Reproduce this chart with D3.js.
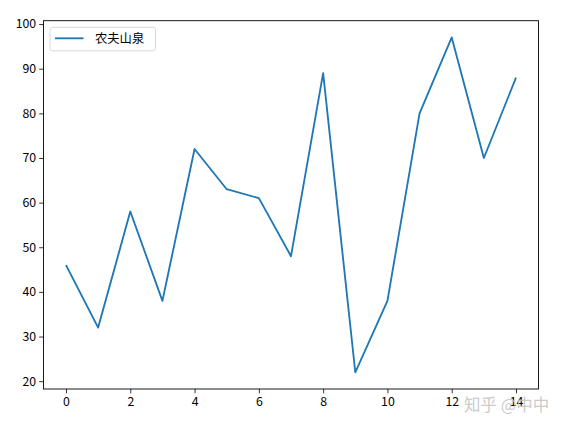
<!DOCTYPE html>
<html>
<head>
<meta charset="utf-8">
<script src="https://cdn.jsdelivr.net/npm/d3@7"></script>
<style>
  body { margin: 0; background: #fff; }
  svg text { font-family: "Noto Sans CJK SC", "DejaVu Sans", sans-serif; }
</style>
</head>
<body>
<div id="chart"></div>
<script>
const xs = [0, 1, 2, 3, 4, 5, 6, 7, 8, 9, 10, 11, 12, 13, 14];
const sales = [46, 32, 58, 38, 72, 63, 61, 48, 89, 22, 38, 80, 97, 70, 88];
const xTicks = [0, 2, 4, 6, 8, 10, 12, 14];
const yTicks = [20, 30, 40, 50, 60, 70, 80, 90, 100];
const seriesName = '农夫山泉';

const W = 567, H = 429;
const m = {left: 43.5, right: 28.5, top: 20.7, bottom: 40};

const svg = d3.select('#chart').append('svg').attr('width', W).attr('height', H);

const x = d3.scaleLinear().domain([-0.7, 14.7]).range([m.left, W - m.right]);
const y = d3.scaleLinear().domain([18.25, 100.75]).range([H - m.bottom, m.top]);

const fs = 12.3;

const xAxis = svg.append('g').attr('transform', `translate(0,${H - m.bottom})`)
    .call(d3.axisBottom(x).tickValues(xTicks).tickSize(4.3).tickPadding(4).tickFormat(d3.format('d')));
const yAxis = svg.append('g').attr('transform', `translate(${m.left},0)`)
    .call(d3.axisLeft(y).tickValues(yTicks).tickSize(4.3).tickPadding(3).tickFormat(d3.format('d')));
[xAxis, yAxis].forEach(a => {
    a.select('.domain').remove();
    a.selectAll('line').attr('stroke', '#000').attr('stroke-width', 0.8);
    a.selectAll('text').attr('fill', '#000').style('font-size', fs + 'px')
        .style('font-family', '"Noto Sans CJK SC", "DejaVu Sans", sans-serif');
});

// frame
svg.append('rect').attr('x', m.left).attr('y', m.top)
    .attr('width', W - m.right - m.left).attr('height', H - m.bottom - m.top)
    .attr('fill', 'none').attr('stroke', '#000').attr('stroke-width', 0.9);

const line = d3.line().x((d, i) => x(xs[i])).y(d => y(d));
svg.append('path').datum(sales).attr('d', line)
    .attr('fill', 'none').attr('stroke', '#1f77b4').attr('stroke-width', 1.85)
    .attr('stroke-linejoin', 'round');

// legend
const lg = svg.append('g');
lg.append('rect').attr('x', 50).attr('y', 27.3).attr('width', 105.5).attr('height', 23.5)
    .attr('rx', 2.5).attr('fill', '#fff').attr('fill-opacity', 0.8)
    .attr('stroke', '#d6d6d6').attr('stroke-width', 0.9);
lg.append('line').attr('x1', 55).attr('x2', 83.5).attr('y1', 38.3).attr('y2', 38.3)
    .attr('stroke', '#1f77b4').attr('stroke-width', 1.85);
lg.append('text').text(seriesName).attr('x', 95).attr('y', 38.5).attr('dy', '0.35em')
    .style('font-size', fs + 'px').attr('fill', '#000');

// watermark (overlaps the last tick label, as in the reference)
svg.append('text').text('知乎 @中中').attr('x', 464).attr('y', 410.5)
    .style('font-size', '16.5px').attr('fill', '#c4c4c4').attr('fill-opacity', 0.9);
</script>
</body>
</html>
